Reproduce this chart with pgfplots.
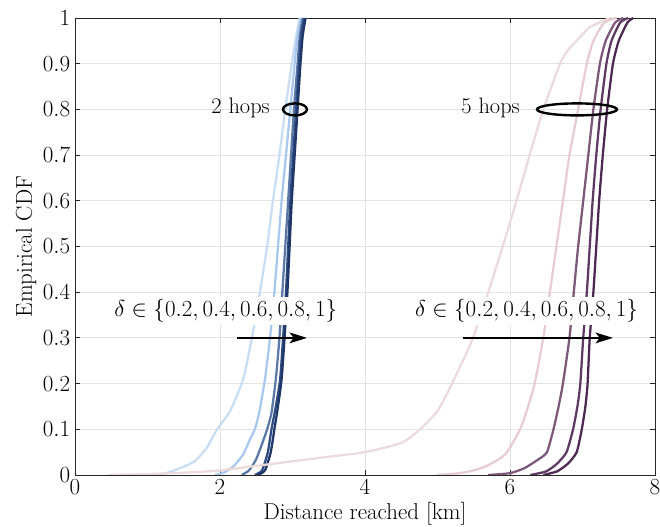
\documentclass[border=0pt]{standalone}
\usepackage{pgfplots}
\pgfplotsset{compat=1.18}
\usetikzlibrary{arrows.meta}
\definecolor{ba}{HTML}{C9DDF4}
\definecolor{bb}{HTML}{A9C8EE}
\definecolor{bc}{HTML}{5B78A6}
\definecolor{bd}{HTML}{2F4C80}
\definecolor{be}{HTML}{1E3768}
\definecolor{pa}{HTML}{EDDADB}
\definecolor{pb}{HTML}{E7CDD1}
\definecolor{pc}{HTML}{7D587A}
\definecolor{pd}{HTML}{5E3A63}
\definecolor{pe}{HTML}{4D2852}
\definecolor{gridc}{HTML}{E3E3E3}
\definecolor{axc}{HTML}{262626}
\begin{document}
\begin{tikzpicture}
\begin{axis}[
  scale only axis, width=435pt, height=342.75pt,
  xmin=0, xmax=8, ymin=0, ymax=1,
  xtick={0,2,4,6,8}, ytick={0,0.1,...,1.01},
  grid=major, major grid style={gridc, line width=0.6pt},
  axis line style={axc, line width=0.6pt},
  tick style={axc, line width=0.6pt}, major tick length=4pt, tick align=inside,
  tick label style={font=\fontsize{16.8}{19}\selectfont, black},
  label style={font=\fontsize{17.2}{20}\selectfont},
  yticklabel style={/pgf/number format/fixed},
  xlabel={Distance reached [km]}, ylabel={Empirical CDF},
  xlabel style={yshift=1pt}, ylabel style={yshift=-2pt},
  every axis plot/.append style={line width=1.7pt, line join=round, smooth, tension=0.35},
  clip=true,
]
% 2 hops
\addplot[ba] coordinates {(1.05,0)(1.25,0.004)(1.45,0.015)(1.65,0.03)(1.82,0.06)(1.96,0.1)(2.14,0.14)(2.32,0.21)(2.44,0.3)(2.55,0.4)(2.65,0.5)(2.73,0.6)(2.82,0.7)(2.90,0.8)(2.99,0.9)(3.05,0.96)(3.1,1)};
\addplot[bb] coordinates {(1.93,0)(2.05,0.005)(2.18,0.018)(2.32,0.045)(2.41,0.077)(2.48,0.1)(2.54,0.136)(2.62,0.21)(2.69,0.3)(2.75,0.4)(2.80,0.5)(2.85,0.6)(2.91,0.7)(2.97,0.8)(3.03,0.9)(3.07,0.96)(3.12,1)};
\addplot[bc] coordinates {(2.3,0)(2.4,0.01)(2.5,0.035)(2.6,0.077)(2.65,0.1)(2.71,0.136)(2.77,0.21)(2.82,0.3)(2.86,0.4)(2.90,0.5)(2.94,0.6)(2.98,0.7)(3.02,0.8)(3.07,0.9)(3.10,0.96)(3.14,1)};
\addplot[bd] coordinates {(2.48,0)(2.58,0.01)(2.66,0.05)(2.71,0.1)(2.77,0.15)(2.83,0.21)(2.87,0.3)(2.91,0.4)(2.94,0.5)(2.97,0.6)(3.01,0.7)(3.05,0.8)(3.09,0.9)(3.12,0.96)(3.16,1)};
\addplot[be] coordinates {(2.52,0)(2.62,0.01)(2.70,0.05)(2.75,0.1)(2.80,0.15)(2.85,0.21)(2.89,0.3)(2.93,0.4)(2.96,0.5)(2.99,0.6)(3.03,0.7)(3.07,0.8)(3.11,0.9)(3.14,0.96)(3.18,1)};
% 5 hops
\addplot[pa] coordinates {(0.44,0)(1.0,0.002)(1.5,0.005)(2.0,0.01)(2.5,0.02)(3.0,0.03)(3.5,0.04)(4.0,0.05)(4.5,0.07)(4.76,0.1)(5.0,0.14)(5.2,0.2)(5.35,0.25)(5.49,0.3)(5.70,0.4)(5.90,0.5)(6.09,0.6)(6.27,0.7)(6.46,0.8)(6.69,0.9)(6.8,0.93)(6.92,0.95)(7.1,0.98)(7.38,1)};
\addplot[pb] coordinates {(4.99,0)(5.3,0.004)(5.5,0.01)(5.68,0.02)(5.85,0.035)(5.96,0.05)(6.14,0.1)(6.25,0.15)(6.34,0.2)(6.46,0.3)(6.55,0.4)(6.64,0.5)(6.73,0.6)(6.82,0.7)(6.94,0.8)(7.06,0.9)(7.15,0.95)(7.3,0.99)(7.47,1)};
\addplot[pc] coordinates {(5.7,0)(6.0,0.004)(6.2,0.015)(6.4,0.035)(6.51,0.05)(6.6,0.1)(6.67,0.15)(6.73,0.2)(6.82,0.3)(6.88,0.4)(6.94,0.5)(7.01,0.6)(7.08,0.7)(7.15,0.8)(7.24,0.9)(7.32,0.95)(7.45,0.99)(7.56,1)};
\addplot[pd] coordinates {(6.28,0)(6.5,0.008)(6.65,0.025)(6.78,0.05)(6.87,0.1)(6.93,0.15)(6.97,0.2)(7.01,0.3)(7.06,0.4)(7.10,0.5)(7.14,0.6)(7.19,0.7)(7.25,0.8)(7.33,0.9)(7.40,0.95)(7.52,0.99)(7.63,1)};
\addplot[pe] coordinates {(6.46,0)(6.65,0.008)(6.8,0.025)(6.92,0.05)(6.99,0.1)(7.04,0.15)(7.07,0.2)(7.10,0.3)(7.15,0.4)(7.19,0.5)(7.23,0.6)(7.28,0.7)(7.34,0.8)(7.42,0.9)(7.50,0.95)(7.62,0.99)(7.70,1)};
% annotations
\node[fill=white, inner sep=2pt, font=\fontsize{17.2}{20}\selectfont] at (axis cs:2.08,0.359) {$\delta\in\{0.2,0.4,0.6,0.8,1\}$};
\node[fill=white, inner sep=2pt, font=\fontsize{17.2}{20}\selectfont] at (axis cs:6.228,0.359) {$\delta\in\{0.2,0.4,0.6,0.8,1\}$};
\draw[black, line width=1.6pt, -{Stealth[length=13pt,width=8pt,inset=3pt]}] (axis cs:2.234,0.3) -- (axis cs:3.2,0.3);
\draw[black, line width=1.6pt, -{Stealth[length=13pt,width=8pt,inset=3pt]}] (axis cs:5.352,0.3) -- (axis cs:7.42,0.3);
\node[anchor=east, inner sep=0pt, font=\fontsize{16.8}{19}\selectfont] at (axis cs:2.69,0.803) {2 hops};
\node[anchor=east, inner sep=0pt, font=\fontsize{16.8}{19}\selectfont] at (axis cs:6.138,0.803) {5 hops};
\draw[black, line width=1.8pt] (axis cs:3.034,0.8) ellipse [x radius=9pt, y radius=4.5pt];
\draw[black, line width=1.8pt] (axis cs:6.924,0.8) ellipse [x radius=30pt, y radius=4.5pt];
\end{axis}
\pgfresetboundingbox
\path (-56.25pt,-39pt) rectangle (438.75pt,356.25pt);
\end{tikzpicture}
\end{document}
